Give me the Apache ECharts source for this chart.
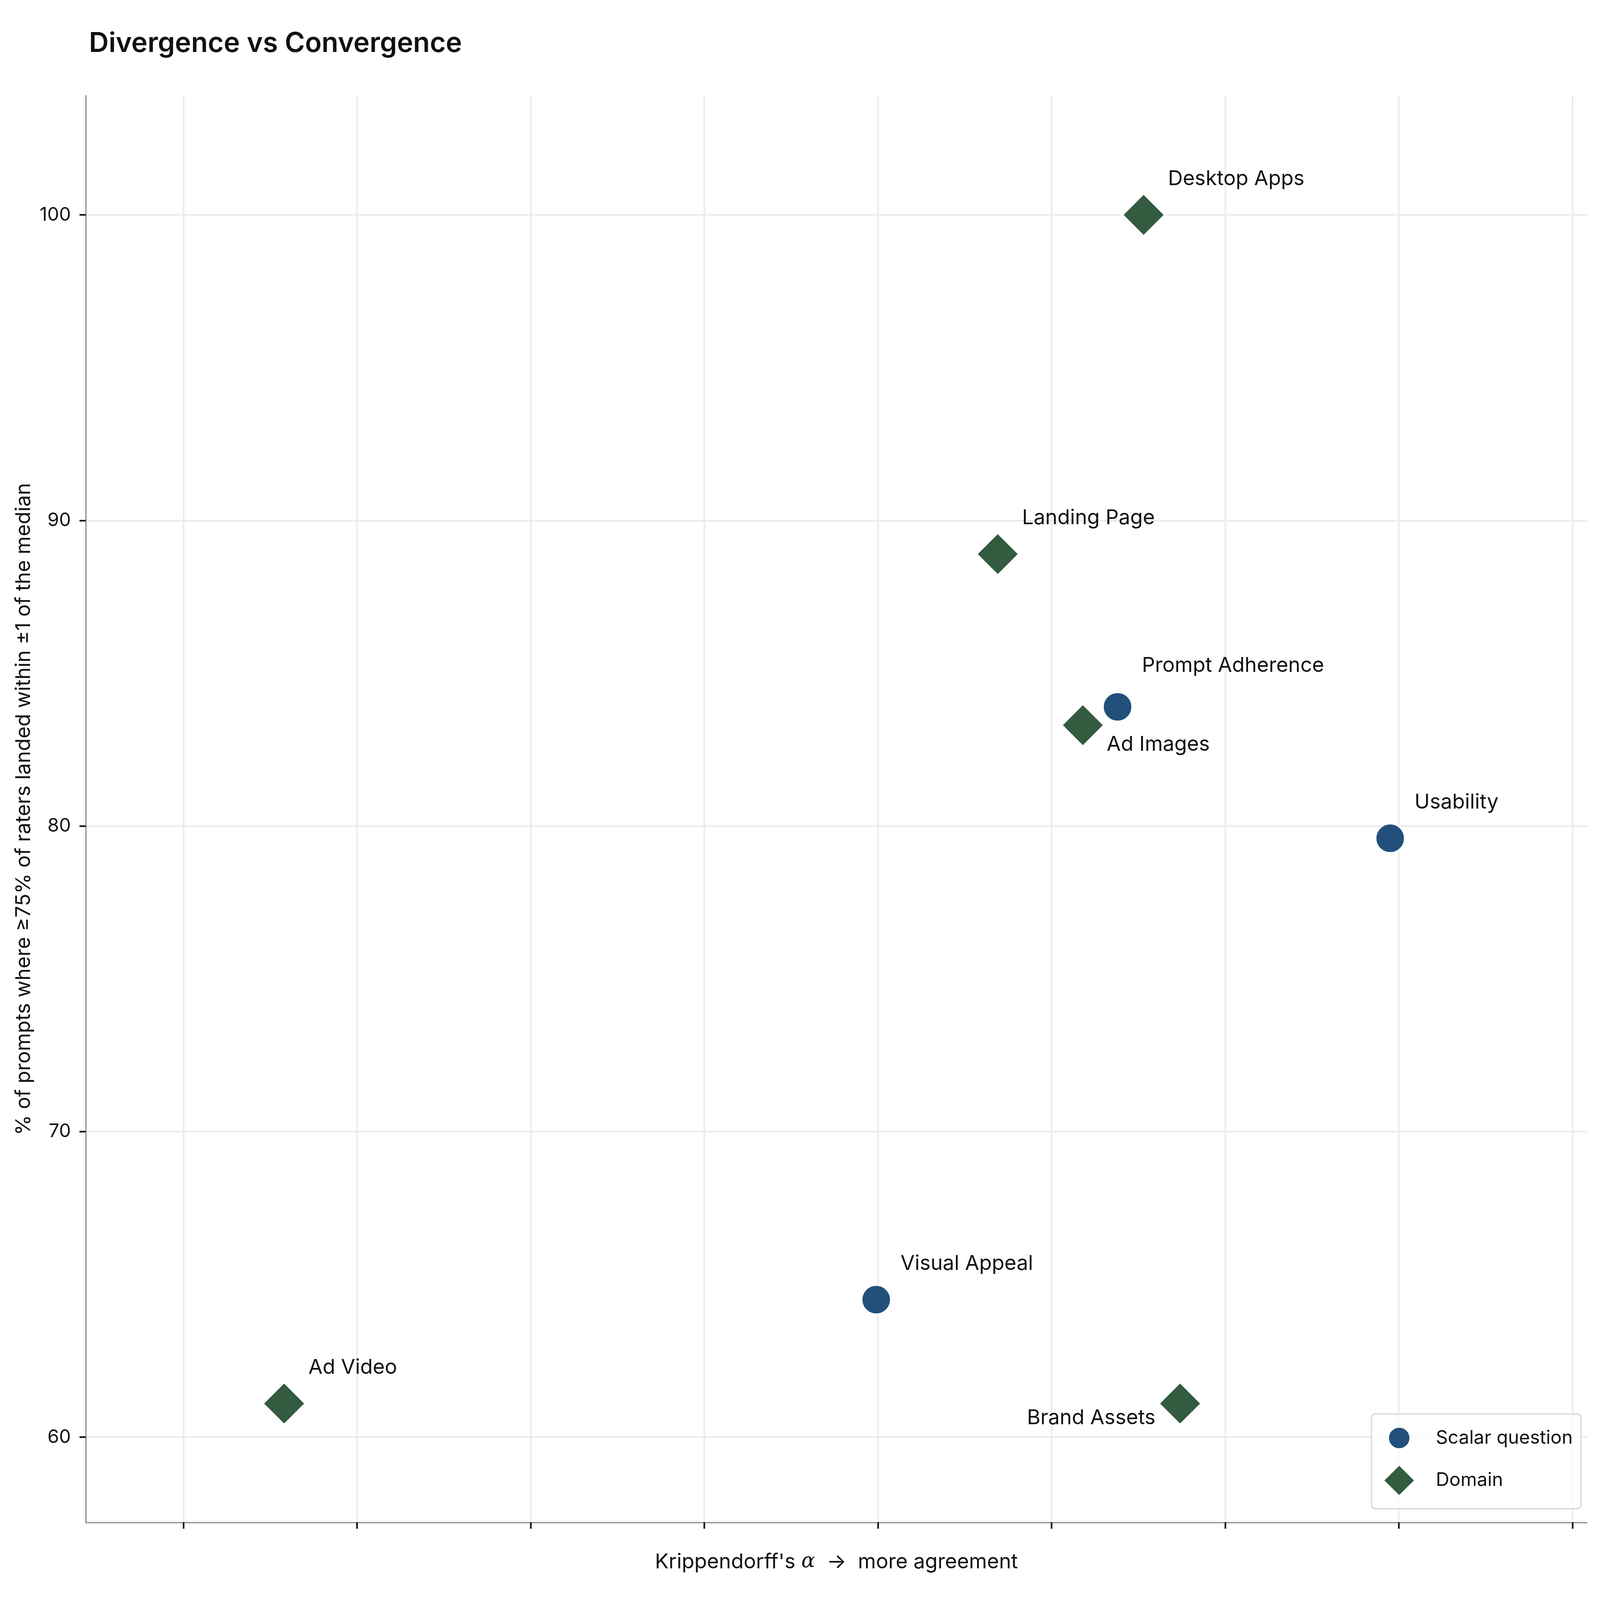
<!DOCTYPE html>
<html>
<head>
<meta charset="utf-8">
<title>Divergence vs Convergence</title>
<script src="https://cdn.jsdelivr.net/npm/echarts@6/dist/echarts.min.js"></script>
<style>
  html, body { margin: 0; padding: 0; background: #fff; overflow: hidden; }
  #chart { width: 100vw; height: 100vh; }
</style>
</head>
<body>
<div id="chart"></div>
<script>
// data (x = Krippendorff's alpha, y = % within ±1 of median)
const scalarNames = ['Usability', 'Prompt Adherence', 'Visual Appeal'];
const scalarAlpha = [0.695, 0.538, 0.399];
const scalarPct = [79.6, 83.9, 64.5];

const domainNames = ['Desktop Apps', 'Landing Page', 'Ad Images', 'Brand Assets', 'Ad Video'];
const domainAlpha = [0.553, 0.469, 0.518, 0.574, 0.058];
const domainPct = [100, 88.9, 83.3, 61.1, 61.1];

const xTicks = [0, 0.1, 0.2, 0.3, 0.4, 0.5, 0.6, 0.7, 0.8];
const yTicks = [60, 70, 80, 90, 100];

const FONT = 'Inter, "Noto Sans", sans-serif';
const INK = '#111111';
const BLUE = '#22507b';
const GREEN = '#335b40';

const chart = echarts.init(document.getElementById('chart'));
// layout was measured on a 6843 x 4413 canvas; scale to whatever we got
const sx = chart.getWidth() / 6843;
const sy = chart.getHeight() / 4413;
const sf = Math.min(sx, sy);
const px = v => v * sx;
const py = v => v * sy;
const pf = v => v * sf;

// where each label sits relative to its marker (offset of the text's middle)
const labelPlace = { 'Ad Images': 'below', 'Brand Assets': 'left', 'Prompt Adherence': 'high' };
function labelFor(name) {
  const p = labelPlace[name];
  if (p === 'below') return { align: 'left', offset: [px(102), py(54)] };
  if (p === 'left') return { align: 'right', offset: [px(-105), py(40)] };
  if (p === 'high') return { align: 'left', offset: [px(104), py(-114)] };
  return { align: 'left', offset: [px(104), py(-99)] };
}

function points(names, xs, ys) {
  return names.map((n, i) => ({ name: n, value: [xs[i], ys[i]], label: labelFor(n) }));
}

// legend circle drawn smaller than the diamond (corner moves pad the box)
const circleIcon = 'path://M0,0M130,130M110.5,65A45.5,45.5,0,1,1,19.5,65A45.5,45.5,0,1,1,110.5,65Z';

const pointLabel = {
  show: true,
  formatter: '{b}',
  position: 'inside',
  verticalAlign: 'middle',
  fontFamily: FONT,
  fontSize: pf(88),
  color: INK,
};

const legendItemH = pf(130);

chart.setOption({
  backgroundColor: '#fff',
  animation: false,
  title: {
    text: 'Divergence vs Convergence',
    left: px(372),
    top: py(115) - pf(58.5),
    textStyle: { fontFamily: FONT, fontSize: pf(117), fontWeight: 600, color: INK },
  },
  grid: { left: px(367), right: px(56), top: py(264), bottom: py(214), containLabel: false, outerBoundsMode: 'none' },
  legend: {
    orient: 'vertical',
    left: px(5866),
    top: py(3900),
    itemWidth: pf(131),
    itemHeight: legendItemH,
    itemGap: py(115) - legendItemH,
    padding: [Math.max(0, py(65) - legendItemH / 2), pf(35), Math.max(0, py(77) - legendItemH / 2), px(51)],
    backgroundColor: 'rgba(255,255,255,0.8)',
    borderColor: '#d6d6d6',
    borderWidth: pf(5),
    borderRadius: pf(16),
    textStyle: { fontFamily: FONT, fontSize: pf(80), color: INK, padding: [0, 0, 0, px(83)] },
    data: [{ name: 'Scalar question', icon: circleIcon }, { name: 'Domain' }],
  },
  xAxis: {
    type: 'value',
    min: -0.0562,
    max: 0.8083,
    name: "{n|Krippendorff's }{a|α}{n|  →  more agreement}",
    nameLocation: 'middle',
    nameGap: py(109) - pf(44),
    nameTextStyle: {
      rich: {
        n: { fontFamily: FONT, fontSize: pf(88), color: INK },
        a: { fontFamily: '"DejaVu Serif", serif', fontStyle: 'italic', fontSize: pf(88), color: INK },
      },
    },
    axisLine: { show: true, onZero: false, lineStyle: { color: '#999', width: pf(6) } },
    axisTick: { show: true, customValues: xTicks, length: pf(27), lineStyle: { color: INK, width: pf(7) } },
    axisLabel: { show: false },
    splitLine: { show: true, lineStyle: { color: '#ebebeb', width: pf(7) } },
  },
  yAxis: {
    type: 'value',
    min: 57.21,
    max: 103.9,
    name: '% of prompts where ≥75% of raters landed within ±1 of the median',
    nameLocation: 'middle',
    nameGap: px(221),
    nameTextStyle: { fontFamily: FONT, fontSize: pf(88), color: INK },
    axisLine: { show: true, onZero: false, lineStyle: { color: '#999', width: pf(6) } },
    axisTick: { show: true, customValues: yTicks, length: pf(27), lineStyle: { color: INK, width: pf(7) } },
    axisLabel: { customValues: yTicks, margin: px(64), fontFamily: FONT, fontSize: pf(80), color: INK },
    splitLine: { show: true, lineStyle: { color: '#ebebeb', width: pf(7) } },
  },
  series: [
    {
      name: 'Scalar question',
      type: 'scatter',
      symbol: 'circle',
      symbolSize: pf(126),
      itemStyle: { color: BLUE, borderColor: '#fff', borderWidth: pf(8), opacity: 1 },
      label: pointLabel,
      data: points(scalarNames, scalarAlpha, scalarPct),
    },
    {
      name: 'Domain',
      type: 'scatter',
      symbol: 'diamond',
      symbolSize: pf(182),
      itemStyle: { color: GREEN, borderColor: '#fff', borderWidth: pf(8), opacity: 1 },
      label: pointLabel,
      data: points(domainNames, domainAlpha, domainPct),
    },
  ],
});
window.addEventListener('resize', () => chart.resize());
</script>
</body>
</html>
